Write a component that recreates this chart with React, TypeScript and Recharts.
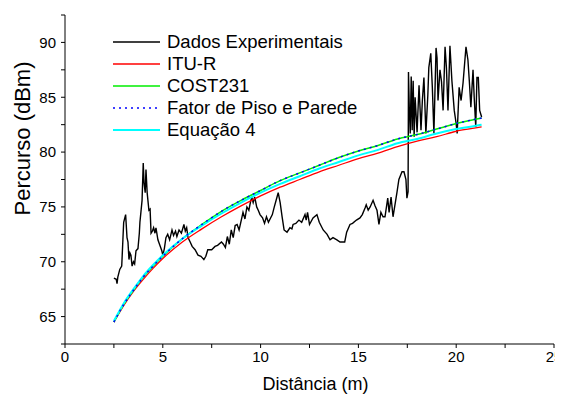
import React from "react";
import { LineChart, Line, XAxis, YAxis, Legend, Label } from "recharts";

// measured data (distance m, path loss dBm)
const expX = [
  2.5, 2.62, 2.66, 2.7, 2.8, 2.9, 2.96, 3.0, 3.1, 3.17, 3.22, 3.27, 3.32, 3.37, 3.43, 3.5, 3.56, 3.63, 3.73, 3.8,
  3.83, 3.88, 3.94, 4.0, 4.04, 4.1, 4.14, 4.2, 4.29, 4.35, 4.4, 4.47, 4.53, 4.6, 4.65, 4.75, 4.85, 4.95, 5.0, 5.08,
  5.16, 5.25, 5.35, 5.47, 5.55, 5.65, 5.72, 5.83, 5.95, 6.08, 6.15, 6.22, 6.29, 6.4, 6.5, 6.65, 6.8, 6.95, 7.0, 7.1,
  7.2, 7.3, 7.5, 7.67, 7.8, 8.0, 8.1, 8.2, 8.3, 8.4, 8.5, 8.6, 8.7, 8.8, 8.9, 9.05, 9.1, 9.2, 9.3, 9.4,
  9.5, 9.56, 9.62, 9.7, 9.8, 9.88, 9.97, 10.1, 10.2, 10.3, 10.4, 10.6, 10.7, 10.84, 10.9, 11.0, 11.1, 11.2, 11.35, 11.5,
  11.6, 11.66, 11.8, 11.96, 12.1, 12.27, 12.33, 12.4, 12.5, 12.68, 12.88, 13.0, 13.2, 13.4, 13.55, 13.7, 13.9, 14.06, 14.3, 14.4,
  14.57, 14.7, 14.9, 15.08, 15.2, 15.34, 15.4, 15.5, 15.6, 15.75, 15.85, 15.95, 16.05, 16.15, 16.26, 16.36, 16.5, 16.57, 16.67, 16.77,
  16.97, 17.07, 17.23, 17.33, 17.43, 17.48, 17.54, 17.55, 17.56, 17.6, 17.65, 17.7, 17.75, 17.8, 17.85, 17.9, 18.0, 18.1, 18.2, 18.27,
  18.35, 18.45, 18.55, 18.6, 18.7, 18.78, 18.86, 18.97, 19.02, 19.07, 19.17, 19.25, 19.33, 19.43, 19.5, 19.58, 19.68, 19.78, 19.9, 19.99,
  20.05, 20.15, 20.25, 20.35, 20.5, 20.6, 20.67, 20.75, 20.86, 20.92, 21.0, 21.06, 21.13, 21.2, 21.3,
];
const expY = [
  68.5, 68.4, 68.0, 68.6, 69.3, 69.6, 72.0, 73.6, 74.3, 72.2, 71.8, 70.2, 70.8, 70.6, 69.6, 70.0, 69.8, 71.0, 71.2, 72.6,
  73.6, 74.5, 75.6, 79.0, 77.2, 76.3, 78.4, 76.3, 74.7, 74.8, 72.6, 72.8, 73.1, 72.6, 73.1, 72.0, 71.5, 71.0, 70.6, 71.2,
  72.2, 72.5, 72.0, 72.9, 72.4, 72.8, 72.3, 72.9, 72.6, 73.4, 72.8, 73.1, 72.2, 71.8, 71.4, 71.1, 70.6, 70.5, 70.4, 70.2,
  70.5, 71.1, 71.1, 71.4, 71.5, 71.8, 71.6, 71.3, 72.3, 71.6, 72.9, 72.2, 73.3, 73.4, 72.9, 74.1, 74.5, 73.9, 75.0, 74.7,
  75.6, 75.8, 75.4, 75.9, 75.0, 74.7, 74.3, 74.0, 73.5, 74.1, 73.6, 74.3, 75.0, 75.9, 76.3, 75.4, 74.1, 72.9, 72.7, 73.1,
  73.0, 73.4, 73.5, 73.8, 73.6, 74.3, 73.8, 74.5, 73.4, 74.0, 74.3, 73.6, 72.9, 72.5, 72.0, 72.2, 72.0, 71.8, 71.8, 72.7,
  73.4, 73.5, 73.8, 74.0, 74.3, 74.9, 75.2, 74.7, 75.0, 75.6, 75.1, 74.7, 73.4, 74.5, 74.1, 74.1, 75.8, 74.5, 75.9, 74.1,
  76.3, 77.5, 78.2, 78.2, 77.5, 75.8, 76.4, 81.6, 87.3, 84.1, 81.7, 86.9, 82.0, 86.5, 81.4, 85.0, 81.8, 86.1, 82.0, 84.7,
  86.8, 81.7, 85.2, 87.7, 89.0, 85.9, 81.7, 89.5, 88.6, 84.7, 87.5, 86.4, 83.8, 89.6, 87.7, 83.8, 89.7, 86.5, 83.8, 82.7,
  81.7, 85.9, 84.7, 86.3, 89.6, 88.4, 86.5, 84.1, 87.5, 85.0, 82.3, 86.8, 86.8, 83.8, 83.2,
];

// model curves
const modelX = [2.5, 3, 3.5, 4, 4.5, 5, 6, 7, 8, 9, 10, 11, 12, 13, 14, 15, 16, 17, 18, 19, 20, 21, 21.3];
const ituR = [64.5, 66.0, 67.3, 68.4, 69.4, 70.3, 71.8, 73.0, 74.1, 75.1, 76.0, 76.8, 77.5, 78.2, 78.8, 79.4, 79.9, 80.5, 81.0, 81.4, 81.9, 82.2, 82.3];
const cost231 = [64.5, 66.1, 67.4, 68.6, 69.6, 70.5, 72.1, 73.4, 74.6, 75.6, 76.5, 77.4, 78.1, 78.8, 79.5, 80.1, 80.6, 81.2, 81.6, 82.1, 82.6, 83.0, 83.1];
const fatorPiso = [64.5, 66.1, 67.4, 68.6, 69.6, 70.5, 72.1, 73.4, 74.6, 75.6, 76.5, 77.4, 78.1, 78.8, 79.5, 80.1, 80.6, 81.2, 81.6, 82.1, 82.6, 83.0, 83.1];
const equacao4 = [64.6, 66.2, 67.5, 68.7, 69.7, 70.6, 72.1, 73.3, 74.4, 75.4, 76.3, 77.1, 77.8, 78.5, 79.1, 79.7, 80.2, 80.8, 81.2, 81.7, 82.1, 82.4, 82.5];

const xTicks = [0, 2.5, 5, 7.5, 10, 12.5, 15, 17.5, 20, 22.5, 25];
const yTicks = [62.5, 65, 67.5, 70, 72.5, 75, 77.5, 80, 82.5, 85, 87.5, 90, 92.5];

const legendItems = [
  { name: "Dados Experimentais", color: "#000000", dash: undefined as string | undefined, width: 1.3 },
  { name: "ITU-R", color: "#ff0000", dash: undefined, width: 1.3 },
  { name: "COST231", color: "#00ee00", dash: undefined, width: 1.5 },
  { name: "Fator de Piso e Parede", color: "#0000ff", dash: "2 4", width: 1.5 },
  { name: "Equação 4", color: "#00ffff", dash: undefined, width: 2 },
];

const FONT = '"Liberation Sans", Arial, sans-serif';

const expData = expX.map((x, i) => ({ x, y: expY[i] }));
const modelData = modelX.map((x, i) => ({
  x,
  itu: ituR[i],
  cost: cost231[i],
  fator: fatorPiso[i],
  eq4: equacao4[i],
}));

const fmtMajor = (v: number) => (v % 5 === 0 ? String(v) : "");

const LegendBox = () => (
  <div style={{ fontFamily: FONT, fontSize: 18.5, color: "#000", lineHeight: "22px" }}>
    {legendItems.map((it) => (
      <div key={it.name} style={{ display: "flex", alignItems: "center", height: 22, whiteSpace: "nowrap" }}>
        <svg width={48} height={6} style={{ marginRight: 6 }}>
          <line x1={0} y1={3} x2={47} y2={3} stroke={it.color} strokeWidth={it.width} strokeDasharray={it.dash} />
        </svg>
        <span>{it.name}</span>
      </div>
    ))}
  </div>
);

export default function App() {
  return (
    <LineChart width={555} height={386} margin={{ top: 7, right: 9, bottom: 0, left: 17 }}>
      <XAxis
        type="number"
        dataKey="x"
        domain={[0, 25]}
        ticks={xTicks}
        tickFormatter={fmtMajor}
        interval={0}
        allowDataOverflow
        height={50}
        tickSize={4}
        tickMargin={3}
        stroke="#000"
        tick={{ fill: "#000", fontSize: 15, fontFamily: FONT }}
      >
        <Label value="Distância (m)" position="insideBottom" offset={4} dx={6} style={{ fill: "#000", fontSize: 18, fontFamily: FONT }} />
      </XAxis>
      <YAxis
        type="number"
        domain={[62.5, 92.5]}
        ticks={yTicks}
        tickFormatter={fmtMajor}
        interval={0}
        allowDataOverflow
        width={40}
        tickSize={4}
        tickMargin={5}
        stroke="#000"
        tick={{ fill: "#000", fontSize: 15, fontFamily: FONT }}
      >
        <Label
          content={(p: any) => {
            const vb = p.viewBox || { x: 17, y: 7, width: 40, height: 329 };
            const cx = vb.x - 3;
            const cy = vb.y + vb.height / 2 - 41;
            return (
              <text x={cx} y={cy} transform={`rotate(-90 ${cx} ${cy})`} textAnchor="middle" dominantBaseline="central" fill="#000" fontSize={22} fontFamily={FONT}>
                Percurso (dBm)
              </text>
            );
          }}
        />
      </YAxis>
      <Legend
        layout="vertical"
        verticalAlign="middle"
        align="center"
        content={() => <LegendBox />}
        wrapperStyle={{ position: "absolute", top: 23, left: 105, width: "auto", height: "auto" }}
      />
      <Line data={expData} dataKey="y" stroke="#000" strokeWidth={1.4} dot={false} isAnimationActive={false} type="linear" />
      <Line data={modelData} dataKey="itu" stroke="#ff0000" strokeWidth={1.3} dot={false} isAnimationActive={false} type="monotone" />
      <Line data={modelData} dataKey="cost" stroke="#00ee00" strokeWidth={1.5} dot={false} isAnimationActive={false} type="monotone" />
      <Line data={modelData} dataKey="eq4" stroke="#00ffff" strokeWidth={2} dot={false} isAnimationActive={false} type="monotone" />
      <Line data={modelData} dataKey="fator" stroke="#0000ff" strokeWidth={1.5} strokeDasharray="2 4" dot={false} isAnimationActive={false} type="monotone" />
    </LineChart>
  );
}
